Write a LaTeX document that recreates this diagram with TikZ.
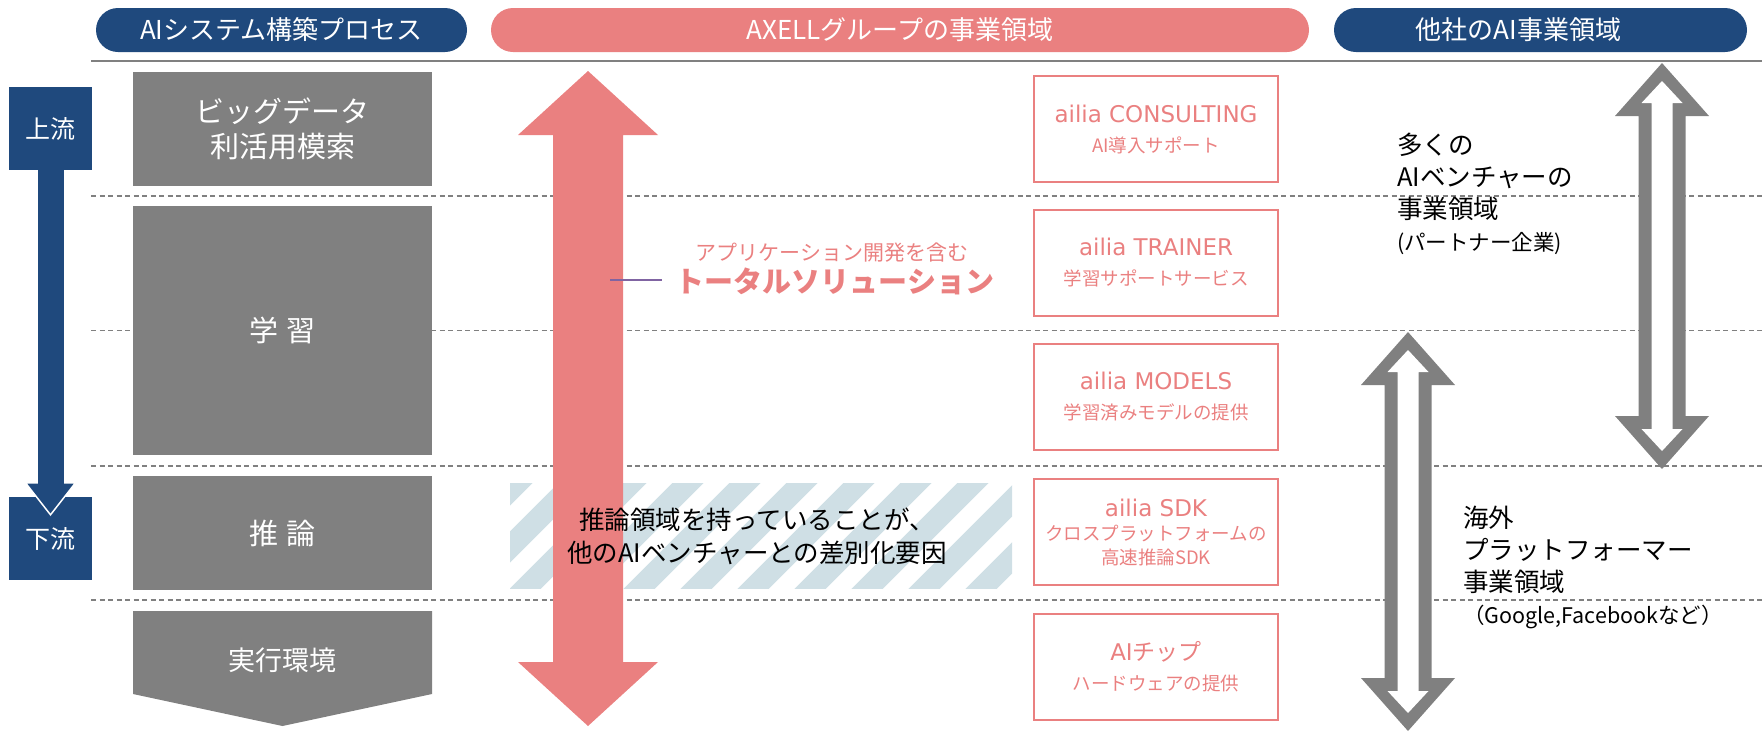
\documentclass[tikz,border=0pt]{standalone}
\usepackage{fontspec}
\setmainfont{Noto Sans CJK JP}
\newfontfamily\latfont{DejaVu Sans}
\usetikzlibrary{positioning}

\definecolor{navy}{RGB}{31,73,125}
\definecolor{pinkc}{RGB}{234,128,128}
\definecolor{grayc}{RGB}{128,128,128}
\definecolor{hatchc}{RGB}{207,223,229}
\definecolor{purplec}{RGB}{128,100,162}

\newcommand{\prodname}[1]{{\latfont\fontsize{23}{28}\selectfont #1}}
\newcommand{\hollowarrow}[3]{%
  \fill[grayc] (#1,#2) -- ({#1+47},{#2+53}) -- ({#1+23.5},{#2+53}) -- ({#1+23.5},{#3-53})
    -- ({#1+47},{#3-53}) -- (#1,#3) -- ({#1-47},{#3-53}) -- ({#1-23.5},{#3-53})
    -- ({#1-23.5},{#2+53}) -- ({#1-47},{#2+53}) -- cycle;
  \fill[white] (#1,{#2+18}) -- ({#1+20.5},{#2+40}) -- ({#1+10.5},{#2+40}) -- ({#1+10.5},{#3-40})
    -- ({#1+20.5},{#3-40}) -- (#1,{#3-18}) -- ({#1-20.5},{#3-40}) -- ({#1-10.5},{#3-40})
    -- ({#1-10.5},{#2+40}) -- ({#1-20.5},{#2+40}) -- cycle;}

\tikzset{
  pill/.style={rounded corners=22pt, minimum height=44pt, inner sep=0pt, text=white,
    font=\fontsize{26}{30}\selectfont},
  flowbox/.style={fill=navy, minimum width=83pt, minimum height=83pt, inner sep=0pt,
    text=white, font=\fontsize{25}{30}\selectfont},
  grbox/.style={fill=grayc, minimum width=299pt, inner sep=0pt, text=white, align=center,
    font=\fontsize{29}{35}\selectfont},
  prodbox/.style={draw=pinkc, line width=2.5pt, minimum width=244pt, minimum height=106pt,
    inner sep=0pt, text=pinkc, align=center, font=\fontsize{18.5}{30}\selectfont},
  sideinfo/.style={anchor=west, align=left, inner sep=0pt, font=\fontsize{25.5}{32}\selectfont},
  sepline/.style={grayc, line width=1.3pt, dash pattern=on 5pt off 3.5pt}
}

\begin{document}
\begin{tikzpicture}[x=1pt,y=-1pt]
  \useasboundingbox (0,0) rectangle (1762,732);

  \node[pill, fill=navy, minimum width=371pt] (hproc) at (281.5,30) {AIシステム構築プロセス};
  \node[pill, fill=pinkc, minimum width=818pt] (haxell) at (900,30) {AXELLグループの事業領域};
  \node[pill, fill=navy, minimum width=413pt] (hother) at (1540.5,30) {};
  \node[text=white, font=\fontsize{26}{30}\selectfont] (hothertxt) at ([xshift=-22pt]hother.center) {他社のAI事業領域};

  \draw[grayc, line width=2.5pt] (91,61) -- (1762,61);
  \foreach \y in {196,330.5,466,600}
    \draw[sepline] (91,\y) -- (1762,\y);

  \node[flowbox] (up) at (50.5,128.5) {上流};
  \node[flowbox] (down) at (50.5,538.5) {下流};
  \fill[navy, draw=white, line width=1.5pt] ([xshift=-25pt,yshift=14pt]down.north)
    -- ([xshift=25pt,yshift=14pt]down.north) -- ([yshift=-18pt]down.north) -- cycle;
  \fill[navy] ([xshift=-13pt]up.south) rectangle ([xshift=13pt,yshift=11pt]down.north);

  \node[grbox, minimum height=114pt] (bigdata) at (282.5,129) {ビッグデータ\\利活用模索};
  \node[grbox, minimum height=249pt] (learn) at (282.5,330.5) {学\hspace{9pt}習};
  \node[grbox, minimum height=114pt] (infer) at (282.5,533) {推\hspace{9pt}論};
  \fill[grayc] (133,611) -- (432,611) -- (432,694) -- (282.5,726) -- (133,694) -- cycle;
  \node[text=white, font=\fontsize{27}{32}\selectfont] (runenv) at (282.5,660) {実行環境};

  \begin{scope}
    \clip (510,483) rectangle (1012,588);
    \foreach \i in {0,...,11}
      \draw[hatchc, line width=22pt] ({400+\i*57},600) -- ++(130,-130);
  \end{scope}

  \fill[pinkc] (588,71) -- (658,135) -- (623,135) -- (623,662) -- (658,662) -- (588,726)
    -- (518,662) -- (553,662) -- (553,135) -- (518,135) -- cycle;

  \node[font=\fontsize{25.5}{33}\selectfont, align=center] (diff) at (757,536)
    {推論領域を持っていることが、\\他のAIベンチャーとの差別化要因};

  \node[text=pinkc, font=\fontsize{21}{26}\selectfont] (appdev) at (832,253) {アプリケーション開発を含む};
  \node[text=pinkc, font=\bfseries\fontsize{29}{34}\selectfont] (total) at (835,281) {トータルソリューション};
  \coordinate (callout) at (610,280);
  \draw[purplec, line width=1.5pt, shorten >=10pt] (callout) -- (callout -| total.west);

  \node[prodbox] (consult) at (1156,129) {\prodname{ailia CONSULTING}\\AI導入サポート};
  \node[prodbox] (trainer) at (1156,263) {\prodname{ailia TRAINER}\\学習サポートサービス};
  \node[prodbox] (models) at (1156,397) {\prodname{ailia MODELS}\\学習済みモデルの提供};
  \node[prodbox] (sdk) at (1156,532) {\prodname{ailia SDK}\\[-6pt]クロスプラットフォームの\\[-6pt]高速推論SDK};
  \node[prodbox] (chip) at (1156,667) {\prodname{AI}{\fontsize{23}{28}\selectfont チップ}\\ハードウェアの提供};

  \hollowarrow{1662}{63}{469}
  \hollowarrow{1408}{332}{731}

  \node[sideinfo] (partner) at (1397,194)
    {多くの\\AIベンチャーの\\事業領域\\{\fontsize{21.5}{26}\selectfont (パートナー企業)}};
  \node[sideinfo] (platform) at (1463,567)
    {海外\\プラットフォーマー\\事業領域\\{\fontsize{21.5}{26}\selectfont （Google,Facebookなど）}};
\end{tikzpicture}
\end{document}
